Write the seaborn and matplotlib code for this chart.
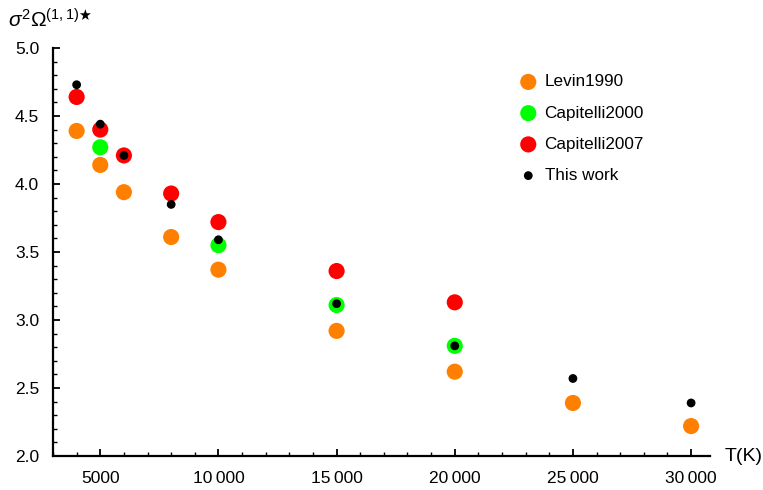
import matplotlib
matplotlib.use("Agg")
import matplotlib.pyplot as plt
import seaborn as sns
import pandas as pd
from matplotlib.ticker import MultipleLocator, FixedLocator

sns.set_theme(style="white")
plt.rcParams['font.family'] = ['Liberation Sans', 'DejaVu Sans']
plt.rcParams['mathtext.fontset'] = 'custom'
plt.rcParams['mathtext.rm'] = 'Liberation Sans'
plt.rcParams['mathtext.it'] = 'Liberation Sans:italic'
plt.rcParams['text.color'] = 'black'

levin_T = [4000, 5000, 6000, 8000, 10000, 15000, 20000, 25000, 30000]
levin_v = [4.39, 4.14, 3.94, 3.61, 3.37, 2.92, 2.62, 2.39, 2.22]
cap2000_T = [5000, 10000, 15000, 20000]
cap2000_v = [4.27, 3.55, 3.11, 2.81]
cap2007_T = [4000, 5000, 6000, 8000, 10000, 15000, 20000]
cap2007_v = [4.64, 4.40, 4.21, 3.93, 3.72, 3.36, 3.13]
work_T = [4000, 5000, 6000, 8000, 10000, 15000, 20000, 25000, 30000]
work_v = [4.73, 4.44, 4.21, 3.85, 3.59, 3.12, 2.81, 2.57, 2.39]

series = [
    ("Levin1990", levin_T, levin_v, "#FF8000", 135),
    ("Capitelli2000", cap2000_T, cap2000_v, "#00FF00", 135),
    ("Capitelli2007", cap2007_T, cap2007_v, "#FF0000", 135),
    ("This work", work_T, work_v, "#000000", 40),
]

x_ticks = [5000, 10000, 15000, 20000, 25000, 30000]
x_ticklabels = ["5000", "10\u2009000", "15\u2009000", "20\u2009000", "25\u2009000", "30\u2009000"]
y_ticks = [2.0, 2.5, 3.0, 3.5, 4.0, 4.5, 5.0]

fig = plt.figure(figsize=(7.63, 4.90), dpi=100)
ax = fig.add_axes([53/763, 34/490, (710-53)/763, (456-48)/490])

for name, T, v, c, s in series:
    df = pd.DataFrame({"T": T, "v": v})
    sns.scatterplot(data=df, x="T", y="v", color=c, s=s, edgecolor="none",
                    ax=ax, label=name, clip_on=False, zorder=3)

ax.set_xlim(3000, 30800)
ax.set_ylim(2.0, 5.0)
ax.set_xlabel("")
ax.set_ylabel("")
for sp in ["top", "right"]:
    ax.spines[sp].set_visible(False)
for sp in ["left", "bottom"]:
    ax.spines[sp].set_color("black")
    ax.spines[sp].set_linewidth(1.6)

ax.xaxis.set_major_locator(FixedLocator(x_ticks))
ax.set_xticklabels(x_ticklabels)
ax.xaxis.set_minor_locator(MultipleLocator(1000))
ax.yaxis.set_major_locator(FixedLocator(y_ticks))
ax.set_yticklabels([f"{t:.1f}" for t in y_ticks])
ax.yaxis.set_minor_locator(MultipleLocator(0.1))
ax.tick_params(which="major", direction="in", length=5, width=1.3, colors="black",
               labelcolor="black", labelsize=12.5, bottom=True, left=True)
ax.tick_params(axis="x", which="major", pad=11)
ax.tick_params(axis="y", which="major", pad=10)
ax.tick_params(which="minor", direction="in", length=3, width=1.0, colors="black",
               bottom=True, left=True)

ax.text(-0.068, 1.068, r"$\sigma^2\Omega^{(1,1)\bigstar}$", transform=ax.transAxes,
        fontsize=15, ha="left", va="center", color="black")
ax.text(1.022, 0.0, "T(K)", transform=ax.transAxes, fontsize=14,
        ha="left", va="center", color="black")

leg = ax.legend(loc="upper left", bbox_to_anchor=(0.70, 0.952), frameon=False,
                fontsize=12.3, labelspacing=0.95, handletextpad=0.45,
                handlelength=1.0, borderaxespad=0)
for t in leg.get_texts():
    t.set_color("black")

fig.savefig("out.png", dpi=100)
